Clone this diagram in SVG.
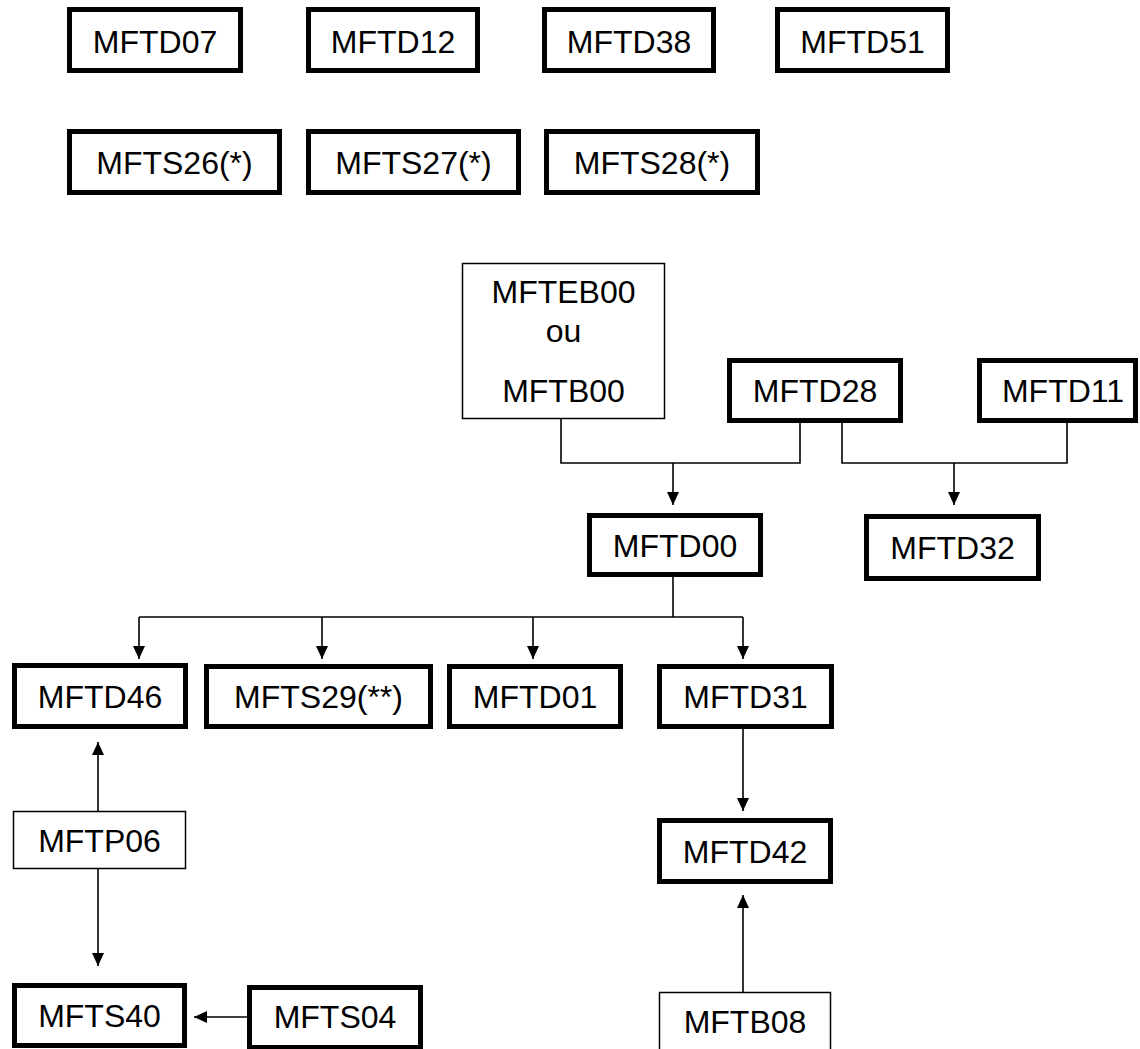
<svg xmlns="http://www.w3.org/2000/svg" width="1140" height="1049" viewBox="0 0 1140 1049">
  <style>
    .thick { fill: #fff; stroke: #000; stroke-width: 5; }
    .thin { fill: #fff; stroke: #000; stroke-width: 1.5; }
    .lbl { font-family: "Liberation Sans", Arial, sans-serif; font-size: 32px; fill: #000; text-anchor: middle; }
    .wire { fill: none; stroke: #000; stroke-width: 1.6; }
  </style>
  <defs>
    <marker id="arrow" viewBox="0 0 13 12" refX="13" refY="6" markerWidth="13" markerHeight="12" markerUnits="userSpaceOnUse" orient="auto">
      <path d="M0 0 L13 6 L0 12 z" fill="#000"/>
    </marker>
  </defs>
  <rect width="1140" height="1049" fill="#fff"/>

  <!-- connectors -->
  <g id="connectors">
    <path class="wire" d="M561 419 V463 H800 V423"/>
    <path class="wire" d="M673 463 V505" marker-end="url(#arrow)"/>
    <path class="wire" d="M842 423 V463 H1067 V423"/>
    <path class="wire" d="M954 463 V505" marker-end="url(#arrow)"/>
    <path class="wire" d="M673 577 V617"/>
    <path class="wire" d="M139 617 H743"/>
    <path class="wire" d="M139 617 V659" marker-end="url(#arrow)"/>
    <path class="wire" d="M322 617 V659" marker-end="url(#arrow)"/>
    <path class="wire" d="M533 617 V659" marker-end="url(#arrow)"/>
    <path class="wire" d="M743 617 V659" marker-end="url(#arrow)"/>
    <path class="wire" d="M743 729 V811" marker-end="url(#arrow)"/>
    <path class="wire" d="M743 992 V895" marker-end="url(#arrow)"/>
    <path class="wire" d="M98 811 V742" marker-end="url(#arrow)"/>
    <path class="wire" d="M98 869 V966" marker-end="url(#arrow)"/>
    <path class="wire" d="M247 1017 H194" marker-end="url(#arrow)"/>
  </g>

  <!-- top row -->
  <g id="MFTD07"><rect class="thick" x="69.5" y="9.5" width="171" height="61"/><text class="lbl" x="155" y="52.5">MFTD07</text></g>
  <g id="MFTD12"><rect class="thick" x="308.5" y="9.5" width="169" height="61"/><text class="lbl" x="393" y="52.5">MFTD12</text></g>
  <g id="MFTD38"><rect class="thick" x="544.5" y="9.5" width="169" height="61"/><text class="lbl" x="629" y="52.5">MFTD38</text></g>
  <g id="MFTD51"><rect class="thick" x="777.5" y="9.5" width="170" height="61"/><text class="lbl" x="862.5" y="52.5">MFTD51</text></g>

  <!-- second row -->
  <g id="MFTS26"><rect class="thick" x="69.5" y="131.5" width="210" height="61"/><text class="lbl" x="174.5" y="174">MFTS26(*)</text></g>
  <g id="MFTS27"><rect class="thick" x="308.5" y="131.5" width="210" height="61"/><text class="lbl" x="413.5" y="174">MFTS27(*)</text></g>
  <g id="MFTS28"><rect class="thick" x="546.5" y="131.5" width="211" height="61"/><text class="lbl" x="652" y="174">MFTS28(*)</text></g>

  <!-- sources -->
  <g id="MFTEB00"><rect class="thin" x="462.5" y="263.5" width="202" height="155"/>
    <text class="lbl" x="563.5" y="303">MFTEB00</text>
    <text class="lbl" x="563.5" y="342">ou</text>
    <text class="lbl" x="563.5" y="402">MFTB00</text></g>
  <g id="MFTD28"><rect class="thick" x="729.5" y="360.5" width="171" height="60"/><text class="lbl" x="815" y="402">MFTD28</text></g>
  <g id="MFTD11"><rect class="thick" x="979.5" y="360.5" width="156" height="60"/><text class="lbl" x="1063" y="402">MFTD11</text></g>

  <g id="MFTD00"><rect class="thick" x="589.5" y="515.5" width="171" height="59"/><text class="lbl" x="675" y="556.5">MFTD00</text></g>
  <g id="MFTD32"><rect class="thick" x="866.5" y="516.5" width="172" height="62"/><text class="lbl" x="952.5" y="559">MFTD32</text></g>

  <!-- children row -->
  <g id="MFTD46"><rect class="thick" x="14.5" y="665.5" width="171" height="61"/><text class="lbl" x="100" y="708">MFTD46</text></g>
  <g id="MFTS29"><rect class="thick" x="206.5" y="666.5" width="224" height="60"/><text class="lbl" x="318.5" y="708">MFTS29(**)</text></g>
  <g id="MFTD01"><rect class="thick" x="449.5" y="666.5" width="171" height="60"/><text class="lbl" x="535" y="708">MFTD01</text></g>
  <g id="MFTD31"><rect class="thick" x="659.5" y="666.5" width="172" height="60"/><text class="lbl" x="745.5" y="708">MFTD31</text></g>

  <g id="MFTP06"><rect class="thin" x="13.5" y="811.5" width="172" height="57"/><text class="lbl" x="99.5" y="851.5">MFTP06</text></g>
  <g id="MFTD42"><rect class="thick" x="659.5" y="820.5" width="171" height="61"/><text class="lbl" x="745" y="862.5">MFTD42</text></g>

  <g id="MFTS40"><rect class="thick" x="14.5" y="985.5" width="170" height="60"/><text class="lbl" x="99.5" y="1027">MFTS40</text></g>
  <g id="MFTS04"><rect class="thick" x="249.5" y="987.5" width="171" height="60"/><text class="lbl" x="335" y="1028">MFTS04</text></g>
  <g id="MFTB08"><rect class="thin" x="659.5" y="992.5" width="171" height="80"/><text class="lbl" x="745" y="1033">MFTB08</text></g>
</svg>
